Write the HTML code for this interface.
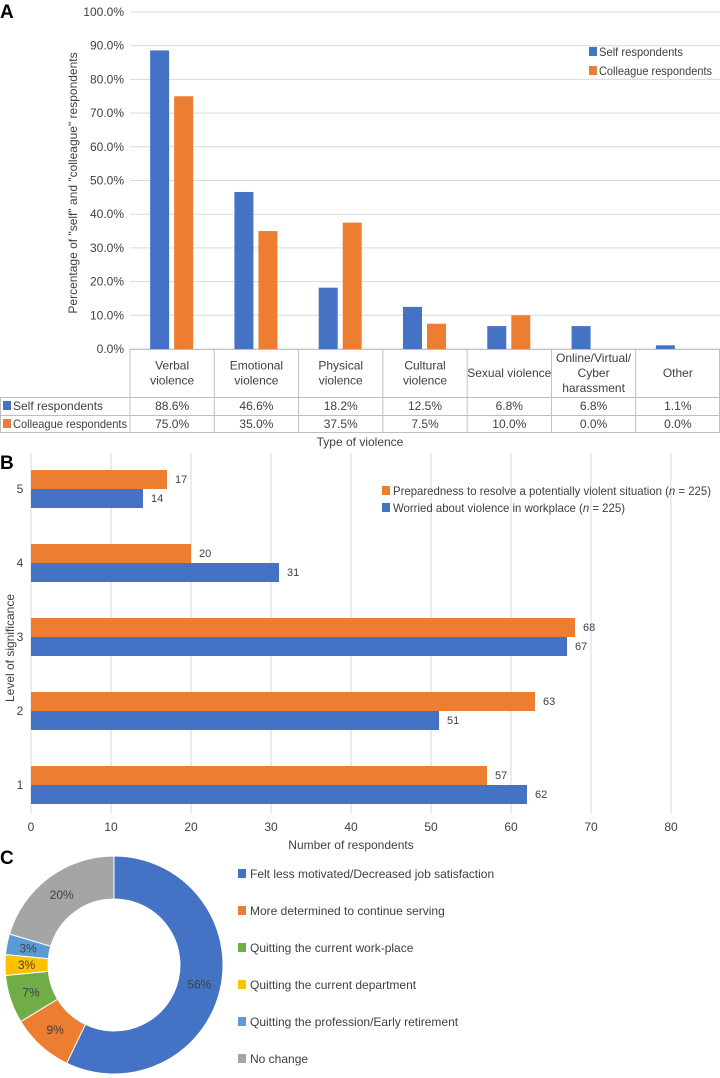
<!DOCTYPE html>
<html><head><meta charset="utf-8"><style>
html,body{margin:0;padding:0;background:#fff;}
svg{display:block;font-family:"Liberation Sans","DejaVu Sans",sans-serif;}
</style></head><body>
<svg id="fig" width="720" height="1078" viewBox="0 0 720 1078">
<g id="gA"></g>
<g id="gB"></g>
<g id="gC"></g>
</svg>
<script>
// ---- Chart A data
const catsA = [["Verbal","violence"],["Emotional","violence"],["Physical","violence"],["Cultural","violence"],["Sexual violence"],["Online/Virtual/","Cyber","harassment"],["Other"]];
const selfA = [88.6,46.6,18.2,12.5,6.8,6.8,1.1];
const collA = [75.0,35.0,37.5,7.5,10.0,0.0,0.0];
const ticksA = [0,10,20,30,40,50,60,70,80,90,100];
// ---- Chart B data
const catsB = [5,4,3,2,1];
const prepB = [17,20,68,63,57];
const worryB = [14,31,67,51,62];
const ticksB = [0,10,20,30,40,50,60,70,80];
// ---- Chart C data
const labelsC = ["Felt less motivated/Decreased job satisfaction","More determined to continue serving","Quitting the current work-place","Quitting the current department","Quitting the profession/Early retirement","No change"];
const valuesC = [56,9,7,3,3,20];

const NS="http://www.w3.org/2000/svg";
const BLUE="#4472c4", ORANGE="#ed7d31", GRID="#d9d9d9", TXT="#404040";
function mk(parent,tag,attrs,text){const e=document.createElementNS(NS,tag);for(const k in attrs)e.setAttribute(k,attrs[k]);if(text!==undefined)e.textContent=text;parent.appendChild(e);return e;}

// ================= A
const gA=document.getElementById('gA');
const aX0=130,aX1=720,aY0=349,aY1=12;
const yA=v=>aY0-(v/100)*(aY0-aY1);
const colW=(aX1-aX0)/catsA.length;
const xA=i=>aX0+colW*i;
let t=mk(gA,'text',{x:0,y:18,'font-size':19,'font-weight':'bold',fill:'#000'},'A');

ticksA.forEach(v=>{
  const l=mk(gA,'line',{x1:aX0,x2:aX1,y1:yA(v),y2:yA(v),stroke:GRID,'stroke-width':1});
  
  const tx=mk(gA,'text',{x:124,y:yA(v)+4,'font-size':12,'text-anchor':'end',fill:TXT},v.toFixed(1)+'%');
  
});
t=mk(gA,'text',{x:0,y:0,'font-size':12,'text-anchor':'middle',fill:TXT,transform:'translate(77,183) rotate(-90)'},'Percentage of "self" and "colleague" respondents');

const bw=19;
catsA.forEach((c,i)=>{
  const cx=xA(i)+colW/2;
  const b1=mk(gA,'rect',{x:cx-bw-3,y:yA(selfA[i]),width:bw,height:yA(0)-yA(selfA[i]),fill:BLUE});
  
  const b2=mk(gA,'rect',{x:cx+2,y:yA(collA[i]),width:bw,height:yA(0)-yA(collA[i]),fill:ORANGE});
  
});
// table
const tb=mk(gA,'g',{stroke:'#bfbfbf','stroke-width':1,fill:'none'});

mk(tb,'line',{x1:aX0,x2:aX1,y1:349.5,y2:349.5});
[397,415,432].forEach(y=>mk(tb,'line',{x1:0,x2:aX1,y1:y+.5,y2:y+.5}));
mk(tb,'line',{x1:0.5,x2:0.5,y1:397,y2:432});
for(let i=0;i<=catsA.length;i++){const x=Math.min(xA(i),719.5);mk(tb,'line',{x1:x,x2:x,y1:349,y2:432});}
catsA.forEach((c,i)=>{
  const cx=xA(i)+colW/2;
  const n=c.length, mid=373, lh=15;
  c.forEach((ln,k)=>{
    const tx=mk(gA,'text',{x:cx,y:mid+(k-(n-1)/2)*lh+4,'font-size':12,'text-anchor':'middle',fill:TXT},ln);
    
  });
  const s=mk(gA,'text',{x:cx,y:410,'font-size':12,'text-anchor':'middle',fill:TXT},selfA[i].toFixed(1)+'%');
  
  const o=mk(gA,'text',{x:cx,y:428,'font-size':12,'text-anchor':'middle',fill:TXT},collA[i].toFixed(1)+'%');
  
});
let r=mk(gA,'rect',{x:3,y:401,width:8,height:9,fill:BLUE});
t=mk(gA,'text',{x:13,y:410,'font-size':12,fill:TXT},'Self respondents');
r=mk(gA,'rect',{x:3,y:419,width:8,height:9,fill:ORANGE});
t=mk(gA,'text',{x:13,y:428,'font-size':12,fill:TXT,textLength:114,lengthAdjust:'spacingAndGlyphs'},'Colleague respondents');
t=mk(gA,'text',{x:360,y:446,'font-size':12,'text-anchor':'middle',fill:TXT},'Type of violence');
// legend A
r=mk(gA,'rect',{x:589,y:47,width:8,height:9,fill:BLUE});
t=mk(gA,'text',{x:599,y:56,'font-size':12,fill:TXT,textLength:84,lengthAdjust:'spacingAndGlyphs'},'Self respondents');
r=mk(gA,'rect',{x:589,y:66,width:8,height:9,fill:ORANGE});
t=mk(gA,'text',{x:599,y:75,'font-size':12,fill:TXT,textLength:113,lengthAdjust:'spacingAndGlyphs'},'Colleague respondents');

// ================= B
const gB=document.getElementById('gB');
const xB=v=>31+v*8.0;
const yBc=i=>489+i*74;
t=mk(gB,'text',{x:0,y:469,'font-size':19,'font-weight':'bold',fill:'#000'},'B');

ticksB.forEach(v=>{
  const l=mk(gB,'line',{x1:xB(v),x2:xB(v),y1:453,y2:813,stroke:GRID,'stroke-width':1});
  
  const tx=mk(gB,'text',{x:xB(v),y:831,'font-size':12,'text-anchor':'middle',fill:TXT},String(v));
  
});
catsB.forEach((c,i)=>{
  const cy=yBc(i);
  const lb=mk(gB,'text',{x:20,y:cy+4,'font-size':12,'text-anchor':'middle',fill:TXT},String(c));
  
  const b1=mk(gB,'rect',{x:xB(0),y:cy-19,width:xB(prepB[i])-xB(0),height:19,fill:ORANGE});
  
  const b2=mk(gB,'rect',{x:xB(0),y:cy,width:xB(worryB[i])-xB(0),height:19,fill:BLUE});
  
  const v1=mk(gB,'text',{x:xB(prepB[i])+8,y:cy-6,'font-size':11,fill:TXT},String(prepB[i]));
  
  const v2=mk(gB,'text',{x:xB(worryB[i])+8,y:cy+13,'font-size':11,fill:TXT},String(worryB[i]));
  
});
t=mk(gB,'text',{x:0,y:0,'font-size':12,'text-anchor':'middle',fill:TXT,transform:'translate(14,648) rotate(-90)'},'Level of significance');

t=mk(gB,'text',{x:351,y:849,'font-size':12,'text-anchor':'middle',fill:TXT},'Number of respondents');

r=mk(gB,'rect',{x:382,y:486,width:8,height:9,fill:ORANGE});
t=mk(gB,'text',{x:393,y:495,'font-size':12,fill:TXT,textLength:318,lengthAdjust:'spacingAndGlyphs'});
t.innerHTML='Preparedness to resolve a potentially violent situation (<tspan font-style="italic">n</tspan> = 225)';
r=mk(gB,'rect',{x:382,y:503,width:8,height:9,fill:BLUE});
t=mk(gB,'text',{x:393,y:512,'font-size':12,fill:TXT,textLength:232,lengthAdjust:'spacingAndGlyphs'});
t.innerHTML='Worried about violence in workplace (<tspan font-style="italic">n</tspan> = 225)';

// ================= C
const gC=document.getElementById('gC');
const colorsC=["#4472c4","#ed7d31","#70ad47","#ffc000","#5b9bd5","#a5a5a5"];
const cxC=114, cyC=965, R=109, Ri=66;
t=mk(gC,'text',{x:0,y:864,'font-size':19,'font-weight':'bold',fill:'#000'},'C');

const tot=valuesC.reduce((a,b)=>a+b,0);
let acc=0;
function pt(rad,a){return [cxC+rad*Math.sin(a), cyC-rad*Math.cos(a)];}
valuesC.forEach((v,i)=>{
  const a0=acc/tot*2*Math.PI; acc+=v; const a1=acc/tot*2*Math.PI;
  const lg=(a1-a0)>Math.PI?1:0;
  const p0=pt(R,a0),p1=pt(R,a1),q1=pt(Ri,a1),q0=pt(Ri,a0);
  const d=`M${p0[0]},${p0[1]} A${R},${R} 0 ${lg} 1 ${p1[0]},${p1[1]} L${q1[0]},${q1[1]} A${Ri},${Ri} 0 ${lg} 0 ${q0[0]},${q0[1]} Z`;
  const s=mk(gC,'path',{d:d,fill:colorsC[i],stroke:'#fff','stroke-width':1});
  
  const am=(a0+a1)/2, lp=pt((R+Ri)/2,am);
  const lt=mk(gC,'text',{x:lp[0],y:lp[1]+4,'font-size':12,'text-anchor':'middle',fill:TXT},v+'%');
  
  const ly=873+i*37;
  const sw=mk(gC,'rect',{x:238,y:ly-4,width:8,height:9,fill:colorsC[i]});
  
  const le=mk(gC,'text',{x:250,y:ly+5,'font-size':12,fill:TXT},labelsC[i]);
  
});
</script>
</body></html>
